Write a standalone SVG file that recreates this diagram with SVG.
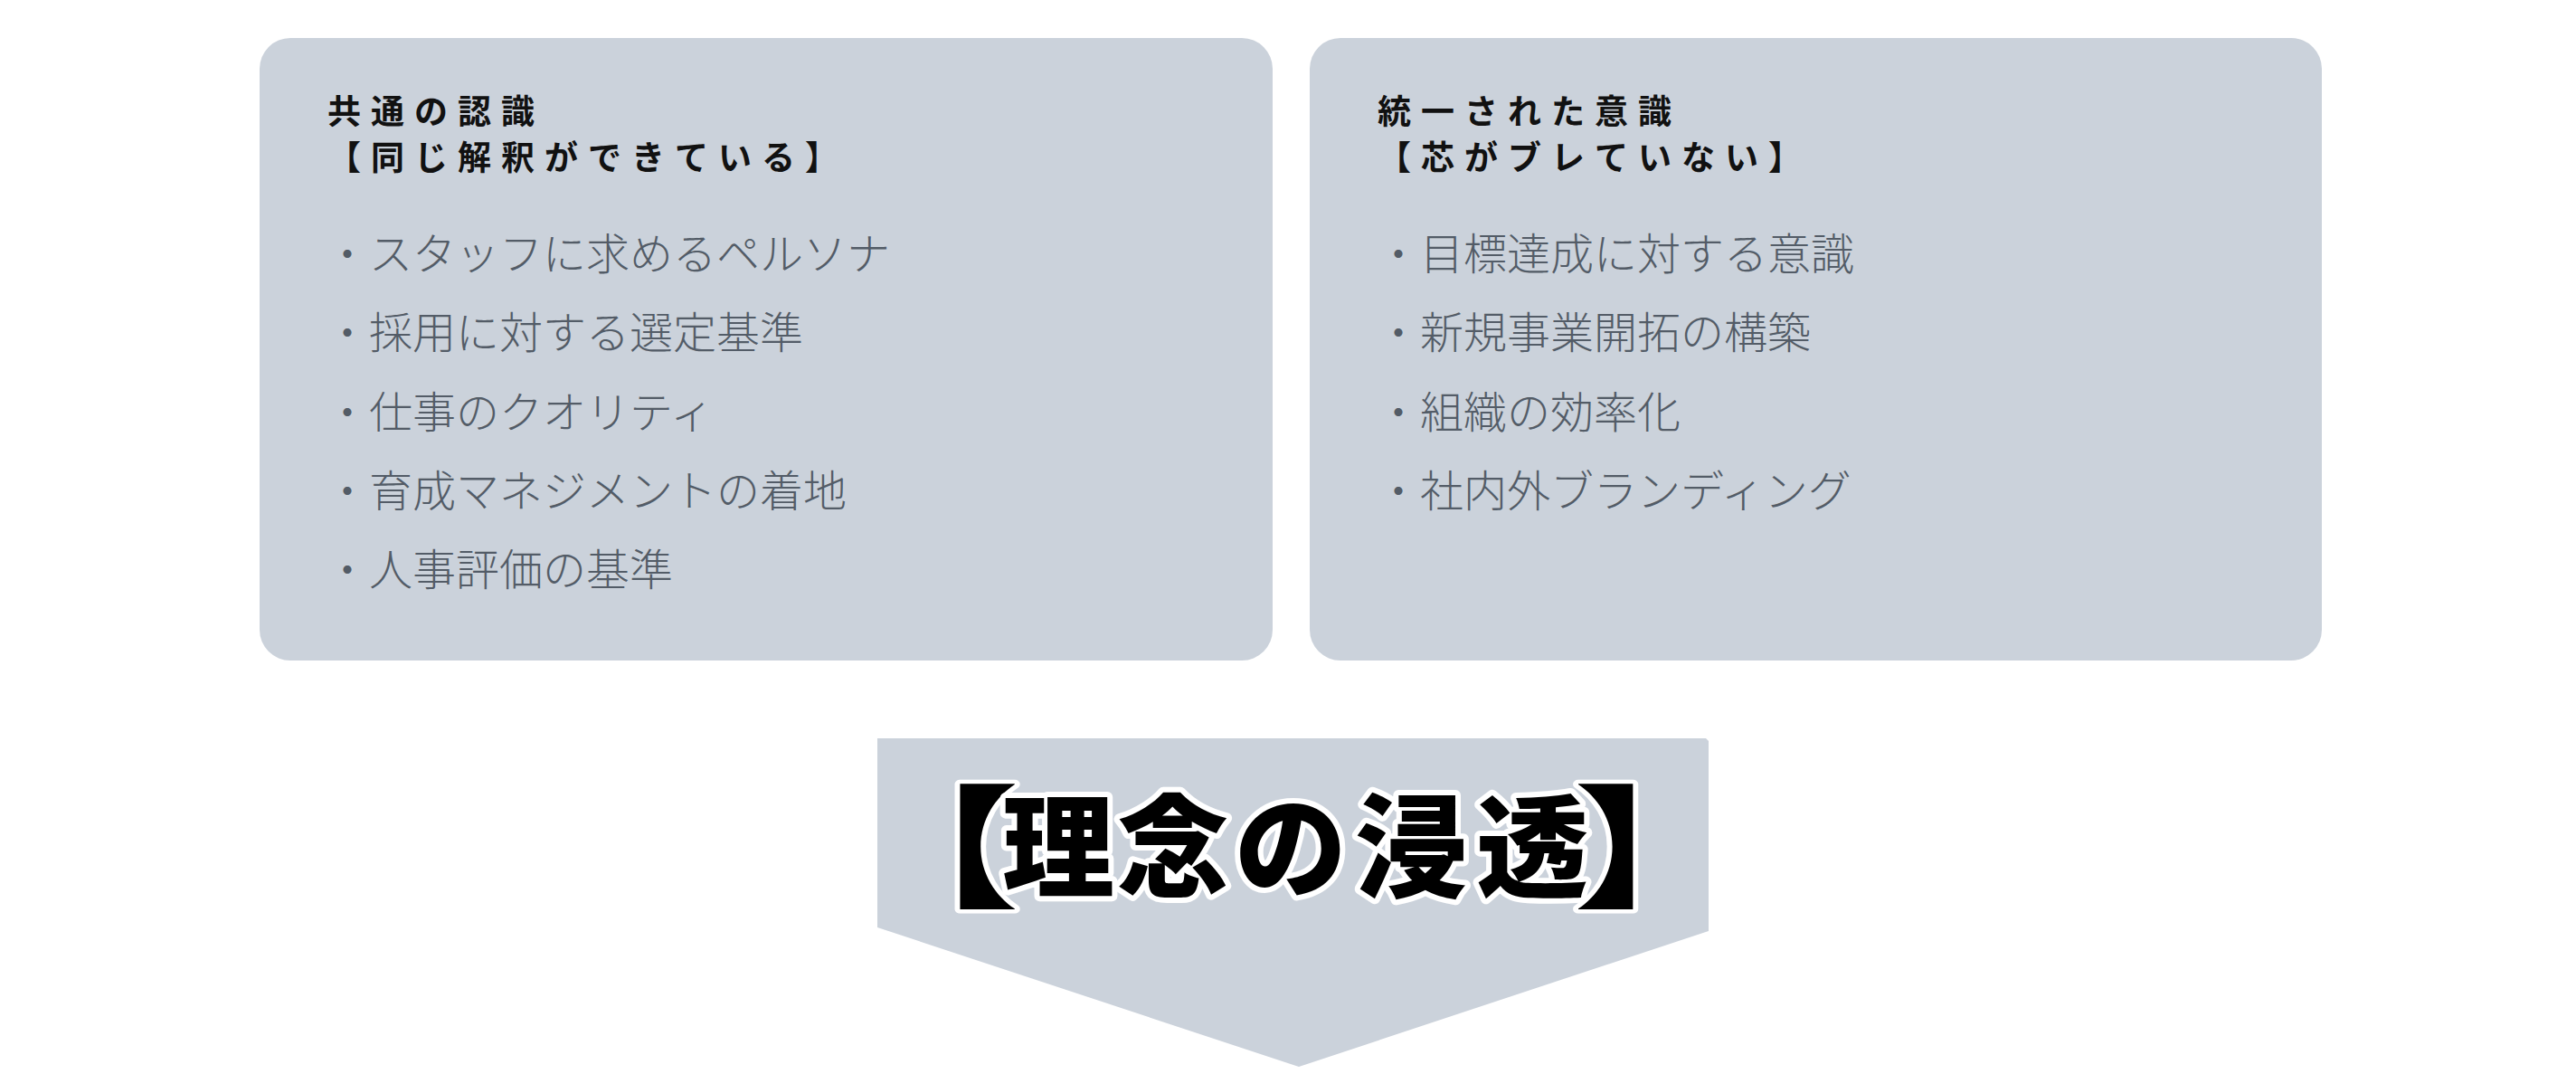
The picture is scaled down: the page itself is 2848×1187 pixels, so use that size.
<svg xmlns="http://www.w3.org/2000/svg" width="2848" height="1187" viewBox="0 0 2848 1187">
<style>
.box{fill:#CBD2DB;}
.head{font-family:"Noto Sans CJK JP","Noto Sans",sans-serif;font-weight:700;font-size:37px;letter-spacing:11px;fill:#111111;}
.item{font-family:"Noto Sans CJK JP","Noto Sans",sans-serif;font-weight:300;font-size:48px;fill:#535C67;}
.big{font-family:"Noto Sans CJK JP","Noto Sans",sans-serif;font-weight:900;font-size:124px;fill:#000000;stroke:#FFFFFF;stroke-width:12px;stroke-linejoin:round;paint-order:stroke fill;text-anchor:middle;}
.brk{font-family:"Noto Sans CJK JP","Noto Sans",sans-serif;font-weight:900;font-size:146px;fill:#000000;stroke:#FFFFFF;stroke-width:9px;stroke-linejoin:round;paint-order:stroke fill;text-anchor:middle;}
</style>
<rect width="2848" height="1187" fill="#FFFFFF"/>
<g id="node-common">
<rect class="box" x="287" y="42" width="1120" height="688" rx="34" ry="34"/>
<text class="head" x="362" y="137">共通の認識</text>
<text class="head" x="362" y="188">【同じ解釈ができている】</text>
<text class="item" x="360" y="298">・スタッフに求めるペルソナ</text>
<text class="item" x="360" y="385">・採用に対する選定基準</text>
<text class="item" x="360" y="473">・仕事のクオリティ</text>
<text class="item" x="360" y="560">・育成マネジメントの着地</text>
<text class="item" x="360" y="647">・人事評価の基準</text>
</g>
<g id="node-unified">
<rect class="box" x="1448" y="42" width="1119" height="688" rx="34" ry="34"/>
<text class="head" x="1523" y="137">統一された意識</text>
<text class="head" x="1523" y="188">【芯がブレていない】</text>
<text class="item" x="1522" y="298">・目標達成に対する意識</text>
<text class="item" x="1522" y="385">・新規事業開拓の構築</text>
<text class="item" x="1522" y="473">・組織の効率化</text>
<text class="item" x="1522" y="560">・社内外ブランディング</text>
</g>
<g id="node-arrow">
<polygon class="box" points="970,816 1886,816 1889,819 1889,1029 1436,1179 970,1025"/>
<text class="brk" transform="translate(1081,0) scale(1.3,1)" x="-38" y="991">【</text>
<text class="big" y="982"><tspan x="1170">理</tspan><tspan x="1297">念</tspan><tspan x="1427">の</tspan><tspan x="1560">浸</tspan><tspan x="1694">透</tspan></text>
<text class="brk" transform="translate(1787,0) scale(1.3,1)" x="37" y="991">】</text>
</g>
<g id="connectors"></g>
</svg>
